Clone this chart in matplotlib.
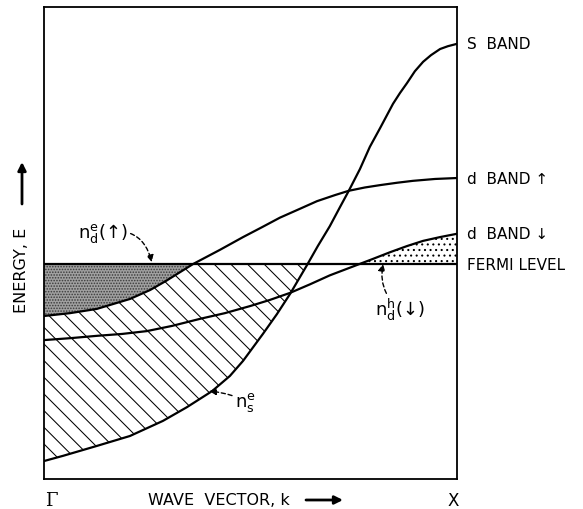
import numpy as np
import matplotlib.pyplot as plt

# Bands: k runs from Gamma (0) to X (1), E in arbitrary units
k_s = np.array([0, .046, .128, .208, .288, .346, .407, .450, .482, .530, .564, .596, .637, .663,
                .692, .717, .738, .765, .789, .814, .845, .862, .879, .898, .918, .937, .959, .978, 1.0])
E_s = np.array([.038, .049, .070, .091, .123, .152, .186, .218, .250, .307, .349, .392, .453, .493,
                .535, .576, .610, .656, .703, .743, .794, .817, .838, .863, .883, .897, .910, .916, .921])

k_up = np.array([0, .063, .128, .208, .257, .295, .361, .426, .482, .528, .571, .620, .661, .705,
                 .738, .777, .814, .855, .893, .947, 1.0])
E_up = np.array([.345, .351, .360, .381, .400, .419, .455, .485, .512, .533, .553, .572, .588, .601,
                 .610, .617, .622, .627, .631, .635, .637])

k_dn = np.array([0, .063, .128, .189, .249, .310, .378, .438, .499, .547, .596, .644, .692, .758,
                 .797, .838, .879, .918, .959, 1.0])
E_dn = np.array([.294, .298, .303, .307, .313, .324, .339, .351, .366, .379, .394, .412, .431, .453,
                 .466, .480, .493, .504, .512, .519])

E_fermi = 0.455

band_names = ['S  BAND', 'd  BAND \u2191', 'd  BAND \u2193', 'FERMI LEVEL']

W, H = 583, 510


def fig_xy(x, y):
    # pixel position (from top-left) -> figure fraction
    return x / W, 1 - y / H


fig = plt.figure(figsize=(W / 100, H / 100), dpi=100)
ax = fig.add_axes([44 / W, 30 / H, 413 / W, 472.5 / H])
ax.set_xlim(0, 1)
ax.set_ylim(0, 1)
ax.set_xticks([])
ax.set_yticks([])
for sp in ax.spines.values():
    sp.set_linewidth(1.3)

plt.rcParams['hatch.linewidth'] = 0.75

# occupied s states (hatched)
ax.fill_between(k_s, E_s, E_fermi, where=E_s <= E_fermi, interpolate=True,
                facecolor='white', edgecolor='black', hatch='\\\\', linewidth=0, zorder=1)
# occupied d(up) states (dense stipple)
ax.fill_between(k_up, E_up, E_fermi, where=E_up <= E_fermi, interpolate=True,
                facecolor='#a0a0a0', edgecolor='#3a3a3a', hatch='......', linewidth=0, zorder=2)
# d(down) holes (sparse dots)
ax.fill_between(k_dn, E_fermi, E_dn, where=E_dn >= E_fermi, interpolate=True,
                facecolor='white', edgecolor='black', hatch='...', linewidth=0, zorder=2)

lw = 1.6
ax.plot(k_s, E_s, color='black', lw=lw, zorder=3)
ax.plot(k_up, E_up, color='black', lw=lw, zorder=3)
ax.plot(k_dn, E_dn, color='black', lw=lw, zorder=3)
ax.axhline(E_fermi, color='black', lw=lw, zorder=3)

# labels at the X end of each band
for name, e in zip(band_names, [E_s[-1], E_up[-1], E_dn[-1], E_fermi]):
    ax.text(1.024, e, name, va='center', ha='left', fontsize=11, clip_on=False)

# dashed pointers
dash = dict(arrowstyle='-|>', linestyle=(0, (3, 2)), lw=1.0, color='black',
            mutation_scale=10, shrinkA=0, shrinkB=0)
ax.annotate(r'$\mathregular{n^{e}_{d}}$' + '(\u2191)', xy=(0.261, 0.459), xytext=(0.203, 0.52),
            fontsize=13, ha='right', va='center',
            arrowprops=dict(dash, connectionstyle='arc3,rad=-0.5'))
ax.annotate(r'$\mathregular{n^{h}_{d}}$' + '(\u2193)', xy=(0.821, 0.455), xytext=(0.801, 0.387),
            fontsize=13, ha='left', va='top',
            arrowprops=dict(dash, connectionstyle='arc3,rad=-0.3'))
ax.annotate(r'$\mathregular{n^{e}_{s}}$', xy=(0.40, 0.186), xytext=(0.462, 0.165),
            fontsize=13, ha='left', va='center',
            arrowprops=dict(dash, connectionstyle='arc3,rad=0.1'))

# axis captions
fig.text(*fig_xy(51, 501), '\u0393', family='DejaVu Serif', fontsize=13, ha='center', va='center')
fig.text(*fig_xy(453, 501), 'X', fontsize=12, ha='center', va='center')
fig.text(*fig_xy(148, 501), 'WAVE  VECTOR, k', fontsize=11.5, ha='left', va='center')
ax.annotate('', xy=(343, H - 501), xytext=(306, H - 501), xycoords='figure pixels',
            arrowprops=dict(arrowstyle='-|>', lw=2, color='black', mutation_scale=12,
                            shrinkA=0, shrinkB=0))
fig.text(*fig_xy(22, 313), 'ENERGY, E', fontsize=11.5, rotation=90, ha='center', va='bottom')
ax.annotate('', xy=(22, H - 163), xytext=(22, H - 205), xycoords='figure pixels',
            arrowprops=dict(arrowstyle='-|>', lw=2, color='black', mutation_scale=12,
                            shrinkA=0, shrinkB=0))

fig.savefig('out.png', dpi=100)
